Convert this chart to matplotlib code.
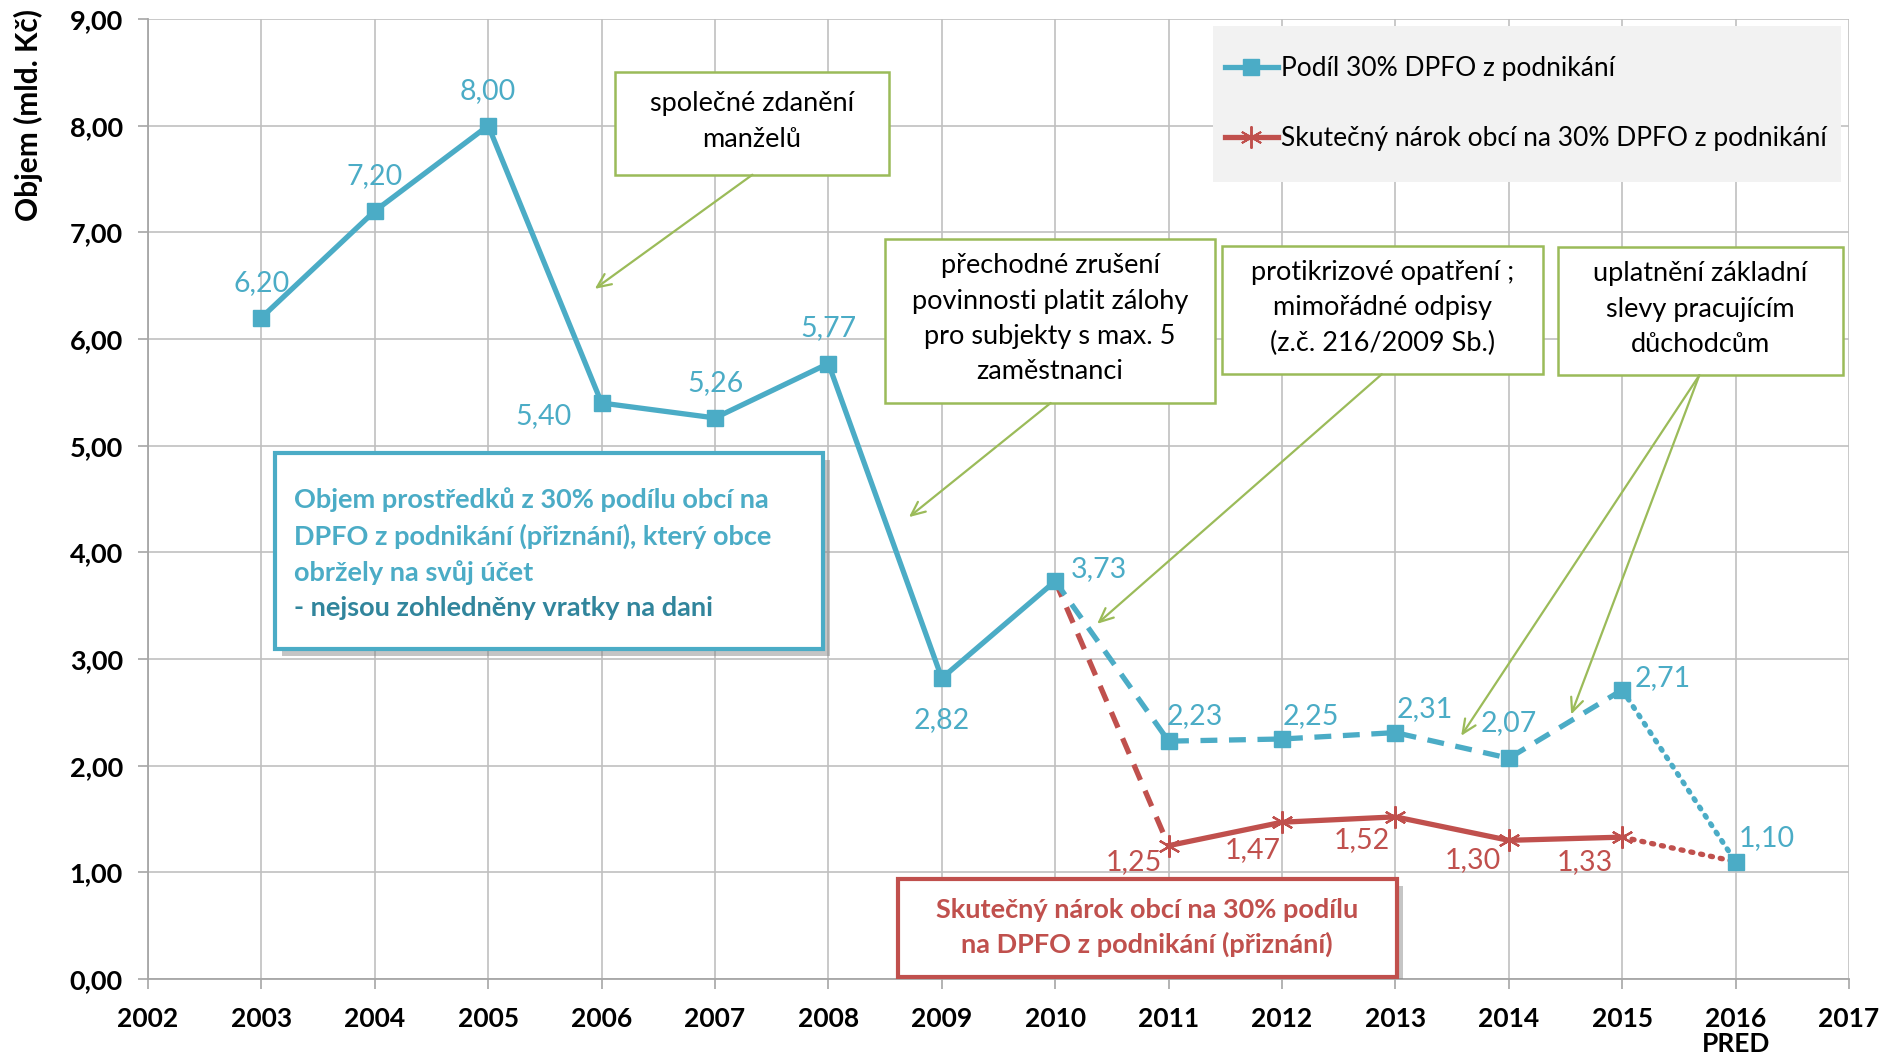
import matplotlib
matplotlib.use("Agg")
import matplotlib.pyplot as plt
from matplotlib.patches import Rectangle
from matplotlib.lines import Line2D
import matplotlib.patheffects as pe

# ---------------- data ----------------
years = [2003, 2004, 2005, 2006, 2007, 2008, 2009, 2010, 2011, 2012, 2013, 2014, 2015, 2016]
podil = [6.20, 7.20, 8.00, 5.40, 5.26, 5.77, 2.82, 3.73, 2.23, 2.25, 2.31, 2.07, 2.71, 1.10]
narok_years = [2010, 2011, 2012, 2013, 2014, 2015, 2016]
narok = [3.73, 1.25, 1.47, 1.52, 1.30, 1.33, 1.10]
xticks = list(range(2002, 2018))
xticklabels = [str(y) for y in xticks]
xticklabels[xticks.index(2016)] = "2016\nPRED"
yticks = [0, 1, 2, 3, 4, 5, 6, 7, 8, 9]
series_names = ["Podíl 30% DPFO z podnikání", "Skutečný nárok obcí na 30% DPFO z podnikání"]

BLUE = "#4BACC6"
DBLUE = "#31859C"
RED = "#C0504D"
GREEN = "#9BBB59"
GRID = "#C0C0C0"

plt.rcParams['font.family'] = ['Lato', 'DejaVu Sans']

fig = plt.figure(figsize=(18.86, 10.54), dpi=100)
ax = fig.add_axes([148/1886, 75/1054, (1849-148)/1886, 960/1054])
ax.set_xlim(2002, 2017)
ax.set_ylim(0, 9)
ax.set_xticks(xticks)
ax.set_xticklabels(xticklabels, fontsize=19, fontweight='bold', linespacing=1.08)
ax.set_yticks(yticks)
ax.set_yticklabels([f"{v:.2f}".replace('.', ',') for v in yticks], fontsize=19.5, fontweight='bold')
ax.grid(True, color=GRID, lw=1.2)
ax.set_axisbelow(True)
for s in ['top', 'right']:
    ax.spines[s].set_visible(False)
for s in ['left', 'bottom']:
    ax.spines[s].set_color("#A6A6A6")
    ax.spines[s].set_linewidth(1.3)
ax.tick_params(axis='both', color="#A6A6A6", length=7, width=1.2)
ax.tick_params(axis='x', pad=13)
ax.tick_params(axis='y', pad=11)

fig.text(28/1886, 1 - 115/1054, "Objem (mld. Kč)", rotation=90, ha='center', va='center',
         fontsize=21.5, fontweight='bold')

lw = 3.8
i10 = years.index(2010)
i15 = years.index(2015)
# blue series segments
ax.plot(years[:i10+1], podil[:i10+1], color=BLUE, lw=lw, solid_joinstyle='miter', zorder=4)
ax.plot(years[i10:i15+1], podil[i10:i15+1], color=BLUE, lw=lw, ls=(0, (3.2, 2.2)), zorder=4)
ax.plot(years[i15:], podil[i15:], color=BLUE, lw=lw, ls=(0, (0.4, 1.5)), dash_capstyle='round', zorder=4)
ax.plot(years, podil, ls='none', marker='s', ms=11, color=BLUE, zorder=6)

# red series segments
ax.plot(narok_years[:2], narok[:2], color=RED, lw=lw, ls=(0, (3.2, 2.2)), zorder=3)
ax.plot(narok_years[1:6], narok[1:6], color=RED, lw=lw, zorder=5)
ax.plot(narok_years[5:], narok[5:], color=RED, lw=lw, ls=(0, (0.4, 1.5)), dash_capstyle='round', zorder=5)
ax.plot(narok_years[1:6], narok[1:6], ls='none', marker=(6, 2, 0), ms=16, mew=1.6, color=RED, zorder=6)

def fmt(v):
    return f"{v:.2f}".replace('.', ',')

blue_off = [(0, 35), (0, 35), (0, 35), (-58, -13), (0, 35), (0, 35), (0, -42), (44, 12),
            (26, 25), (29, 23), (29, 24), (0, 35), (40, 12), (31, 24)]
for x, v, off in zip(years, podil, blue_off):
    ax.annotate(fmt(v), (x, v), xytext=off, textcoords='offset pixels', ha='center', va='center',
                color=BLUE, fontsize=20.5, zorder=7)
red_off = [(-35, -16), (-29, -28), (-34, -23), (-36, -20), (-37, -25)]
for x, v, off in zip(narok_years[1:6], narok[1:6], red_off):
    ax.annotate(fmt(v), (x, v), xytext=off, textcoords='offset pixels', ha='center', va='center',
                color=RED, fontsize=20.5, zorder=7)

# ---------------- annotation boxes ----------------
def box(x0, x1, y0, y1, ec, lw_, shadow=False):
    r = Rectangle((x0, y0), x1 - x0, y1 - y0, facecolor='white', edgecolor=ec, lw=lw_, zorder=8)
    if shadow:
        r.set_path_effects([pe.withSimplePatchShadow(offset=(5, -5), shadow_rgbFace='#808080', alpha=0.45)])
    ax.add_patch(r)

def arrow(xy_from, xy_to):
    ax.annotate("", xy=xy_to, xytext=xy_from,
                arrowprops=dict(arrowstyle='->,head_length=1.0,head_width=0.45', color=GREEN, lw=1.6,
                                shrinkA=0, shrinkB=0), zorder=8)

green_boxes = [
    ((2006.12, 2008.53, 7.54, 8.50), "společné zdanění\nmanželů"),
    ((2008.50, 2011.41, 5.40, 6.94), "přechodné zrušení\npovinnosti platit zálohy\npro subjekty s max. 5\nzaměstnanci"),
    ((2011.47, 2014.30, 5.67, 6.87), "protikrizové opatření ;\nmimořádné odpisy\n(z.č. 216/2009 Sb.)"),
    ((2014.43, 2016.95, 5.66, 6.86), "uplatnění základní\nslevy pracujícím\ndůchodcům"),
]
for (x0, x1, y0, y1), t in green_boxes:
    box(x0, x1, y0, y1, GREEN, 1.8)
    ax.text((x0 + x1) / 2, (y0 + y1) / 2 + 0.02, t, ha='center', va='center', fontsize=19.5,
            linespacing=1.52, zorder=9)

arrow((2007.33, 7.54), (2005.94, 6.47))
arrow((2009.96, 5.40), (2008.71, 4.33))
arrow((2012.88, 5.67), (2010.37, 3.33))
arrow((2015.68, 5.66), (2013.58, 2.28))
arrow((2015.68, 5.66), (2014.55, 2.48))

# blue explanatory box
box(2003.12, 2007.95, 3.09, 4.93, BLUE, 3.0, shadow=True)
blue_lines = ["Objem prostředků z 30% podílu obcí na",
              "DPFO z podnikání (přiznání), který obce",
              "obržely na svůj účet"]
for k, t in enumerate(blue_lines):
    ax.text(2003.29, 4.49 - k * 0.338, t, ha='left', va='center', fontsize=19.5,
            fontweight='bold', color=BLUE, zorder=9)
ax.text(2003.29, 4.49 - 3 * 0.338, "- nejsou zohledněny vratky na dani", ha='left', va='center',
        fontsize=19.5, fontweight='bold', color=DBLUE, zorder=9)

# red explanatory box
box(2008.61, 2013.01, 0.02, 0.94, RED, 3.0, shadow=True)
ax.text((2008.61 + 2013.01) / 2, 0.48, "Skutečný nárok obcí na 30% podílu\nna DPFO z podnikání (přiznání)",
        ha='center', va='center', fontsize=19.5, fontweight='bold', color=RED, linespacing=1.45, zorder=9)

# ---------------- legend ----------------
ax.add_patch(Rectangle((2011.39, 7.47), 2016.93 - 2011.39, 8.93 - 7.47, facecolor='#F2F2F2',
                       edgecolor='none', zorder=8))
handles = [Line2D([], [], color=BLUE, lw=lw, marker='s', ms=11),
           Line2D([], [], color=RED, lw=lw, marker=(6, 2, 0), ms=16, mew=1.4)]
leg = ax.legend(handles, series_names, loc='center left', bbox_to_anchor=(0.633, 0.9117),
                frameon=False, fontsize=19, handlelength=2.0, handletextpad=0.12,
                labelspacing=1.7, borderaxespad=0, borderpad=0)
leg.set_zorder(9)

fig.savefig("out.png", dpi=100)
